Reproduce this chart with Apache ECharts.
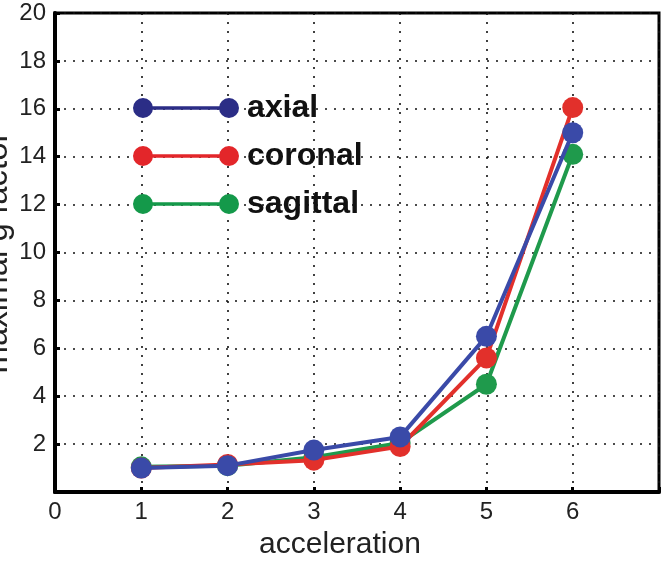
<!DOCTYPE html>
<html>
<head>
<meta charset="utf-8">
<script src="https://cdn.jsdelivr.net/npm/echarts@6/dist/echarts.min.js"></script>
<style>html,body{margin:0;padding:0;background:#fff}#c{width:667px;height:562px}</style>
</head>
<body>
<div id="c"></div>
<script>
const accel = [1, 2, 3, 4, 5, 6];
const axial = [1.0, 1.1, 1.75, 2.3, 6.5, 15.0];
const coronal = [1.0, 1.15, 1.33, 1.9, 5.6, 16.05];
const sagittal = [1.05, 1.1, 1.45, 2.05, 4.5, 14.1];
const names = ['axial', 'coronal', 'sagittal'];
const lineColors = ['#3a4aa8', '#e2302b', '#1f9a4c'];
const legendColors = ['#2b2d86', '#e3262a', '#14994a'];
const FONT = 'Liberation Sans, Arial, sans-serif';

const chart = echarts.init(document.getElementById('c'));
const pairs = arr => accel.map((x, i) => [x, arr[i]]);
const iconPath = 'path://M0,10 A10,10 0 1,1 20,10 A10,10 0 1,1 0,10 Z M10,8.2 L96,8.2 L96,11.8 L10,11.8 Z M86,10 A10,10 0 1,1 106,10 A10,10 0 1,1 86,10 Z';

const dotted = {color: '#111', type: [2, 7], width: 1.6};
chart.setOption({
  animation: false,
  backgroundColor: '#fff',
  grid: {left: 55, right: 8, top: 13, bottom: 70, containLabel: false, outerBoundsMode: 'none', show: true, borderColor: '#000', borderWidth: 3, backgroundColor: 'transparent'},
  legend: {
    orient: 'vertical', left: 128, top: 87,
    itemWidth: 106, itemHeight: 20, itemGap: 16,
    icon: iconPath,
    data: names.map((n, i) => ({name: n, itemStyle: {color: legendColors[i]}})),
    textStyle: {fontFamily: FONT, fontSize: 32, fontWeight: 'bold', color: '#111', padding: [0, 0, 0, 3]},
    selectedMode: false
  },
  xAxis: {
    type: 'value', min: 0, max: 7, interval: 1,
    name: 'acceleration', nameLocation: 'middle', nameGap: 38, nameMoveOverlap: false,
    nameTextStyle: {fontFamily: FONT, fontSize: 30, color: '#222', padding: [0, 34, 0, 0]},
    axisLine: {lineStyle: {color: '#000', width: 4}},
    axisTick: {inside: true, length: 5, lineStyle: {color: '#000', width: 3}},
    axisLabel: {fontFamily: FONT, fontSize: 24, color: '#222', margin: 8, formatter: v => v === 7 ? '' : String(v)},
    splitLine: {show: true, lineStyle: dotted}
  },
  yAxis: {
    type: 'value', min: 0, max: 20, interval: 2,
    name: 'maximal g factor', nameLocation: 'middle', nameGap: 41, nameMoveOverlap: false,
    nameTextStyle: {fontFamily: FONT, fontSize: 33, color: '#222'},
    axisLine: {lineStyle: {color: '#000', width: 4}},
    axisTick: {inside: true, length: 5, lineStyle: {color: '#000', width: 3}},
    axisLabel: {fontFamily: FONT, fontSize: 24, color: '#222', margin: 9, formatter: v => v === 0 ? '' : String(v)},
    splitLine: {show: true, lineStyle: dotted}
  },
  series: [
    {name: 'axial', data: pairs(axial), z: 5},
    {name: 'coronal', data: pairs(coronal), z: 4},
    {name: 'sagittal', data: pairs(sagittal), z: 3}
  ].map((s, i) => Object.assign({
    type: 'line', symbol: 'circle', symbolSize: 21,
    lineStyle: {width: 4, color: lineColors[i]},
    itemStyle: {color: lineColors[i]}
  }, s))
});
</script>
</body>
</html>
